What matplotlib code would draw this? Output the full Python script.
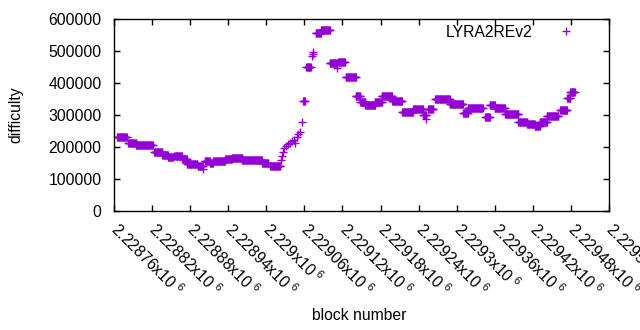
import numpy as np
import matplotlib
matplotlib.use("Agg")
import matplotlib.pyplot as plt
from matplotlib.ticker import FixedLocator, FixedFormatter

plt.rcParams['font.family'] = ['Liberation Sans', 'DejaVu Sans']
plt.rcParams['mathtext.fontset'] = 'custom'
plt.rcParams['mathtext.rm'] = 'Liberation Sans'
plt.rcParams['mathtext.default'] = 'regular'

# difficulty runs: (first block, last block, difficulty)
seg_start = [2228765, 2228782, 2228795, 2228823, 2228836, 2228845, 2228855, 2228867,
             2228875, 2228892, 2228900, 2228903, 2228911, 2228916, 2228935, 2228946,
             2228962, 2228993, 2229006,
             2229023, 2229025, 2229026, 2229028, 2229031, 2229034, 2229037, 2229040,
             2229044, 2229045, 2229048, 2229050, 2229053, 2229056,
             2229058, 2229063, 2229072, 2229073, 2229074, 2229078, 2229086, 2229100,
             2229111, 2229113, 2229125, 2229141, 2229148, 2229156, 2229171, 2229182,
             2229198, 2229214, 2229231, 2229247, 2229252, 2229255, 2229266, 2229289,
             2229310, 2229318, 2229345, 2229352, 2229360, 2229376, 2229397, 2229411,
             2229423, 2229431, 2229442, 2229463, 2229474, 2229479]
seg_end = [2228780, 2228795, 2228821, 2228836, 2228845, 2228853, 2228867, 2228875,
           2228891, 2228900, 2228900, 2228911, 2228916, 2228935, 2228946, 2228962,
           2228993, 2229003, 2229022,
           2229023, 2229025, 2229026, 2229028, 2229031, 2229034, 2229037, 2229040,
           2229044, 2229045, 2229048, 2229050, 2229053, 2229056,
           2229061, 2229070, 2229072, 2229073, 2229074, 2229086, 2229100, 2229111,
           2229111, 2229124, 2229141, 2229148, 2229156, 2229171, 2229182, 2229198,
           2229214, 2229231, 2229247, 2229252, 2229252, 2229263, 2229289, 2229310,
           2229318, 2229341, 2229352, 2229360, 2229376, 2229397, 2229411, 2229423,
           2229431, 2229442, 2229460, 2229474, 2229479, 2229486]
seg_value = [230000, 212000, 205000, 183000, 174000, 168000, 171000, 161000,
             148000, 141000, 131000, 156000, 150000, 156000, 162000, 165000,
             160000, 151000, 142000,
             159000, 172000, 184000, 197000, 203000, 209000, 212000, 219000,
             222000, 212000, 231000, 241000, 247000, 278000,
             344000, 450000, 484000, 491000, 497000, 556000, 566000, 462000,
             447000, 466000, 419000, 359000, 341000, 331000, 341000, 359000,
             344000, 309000, 319000, 300000, 288000, 319000, 350000, 334000,
             306000, 322000, 294000, 331000, 322000, 303000, 278000, 272000,
             266000, 278000, 297000, 316000, 353000, 372000]

x_ticks = [2228760 + 60 * i for i in range(14)]
x_tick_labels = ["2.22876", "2.22882", "2.22888", "2.22894", "2.229", "2.22906", "2.22912",
                 "2.22918", "2.22924", "2.2293", "2.22936", "2.22942", "2.22948", "2.22954"]
y_ticks = [0, 100000, 200000, 300000, 400000, 500000, 600000]

blocks = []
diffs = []
for s, e, v in zip(seg_start, seg_end, seg_value):
    b = np.arange(s, e + 1)
    blocks.append(b)
    diffs.append(np.full(len(b), v))
blocks = np.concatenate(blocks)
diffs = np.concatenate(diffs)

fig = plt.figure(figsize=(6.4, 3.3), dpi=100)
ax = fig.add_axes([114/640, 1 - 211/330, (609-114)/640, (211-19)/330])
color = '#9400D3'
ax.plot(blocks, diffs, linestyle='none', marker='+', markersize=5.5, markeredgewidth=1.0,
        color=color, label='LYRA2REv2')

ax.set_xlim(2228760, 2229540)
ax.set_ylim(0, 600000)
ax.xaxis.set_major_locator(FixedLocator(x_ticks))
ax.xaxis.set_major_formatter(FixedFormatter([l + r"x10$^{\ 6}$" for l in x_tick_labels]))
ax.yaxis.set_major_locator(FixedLocator(y_ticks))
ax.yaxis.set_major_formatter(FixedFormatter([str(v) for v in y_ticks]))

fs = 11.3
ax.tick_params(axis='both', direction='in', length=4, width=1, top=True, right=True,
               labelsize=fs, color='black')
ax.tick_params(axis='y', pad=9)
ax.tick_params(axis='x', pad=11)
for lab in ax.get_xticklabels():
    lab.set_rotation(-45)
    lab.set_ha('left')
    lab.set_va('center')
    lab.set_rotation_mode('anchor')
for sp in ax.spines.values():
    sp.set_linewidth(1)
    sp.set_color('black')

ax.set_xlabel('block number', fontsize=fs)
ax.set_ylabel('difficulty', fontsize=fs)
ax.xaxis.set_label_coords((359-114)/495, -(308-211)/192)
ax.yaxis.set_label_coords(-(114-23)/495, 0.5)

leg = ax.legend(loc='upper right', bbox_to_anchor=(0.955, 1.035), markerfirst=False,
                frameon=False, fontsize=fs, handlelength=1.0, handletextpad=1.68,
                borderpad=0.3)

fig.savefig('out.png', dpi=100)
